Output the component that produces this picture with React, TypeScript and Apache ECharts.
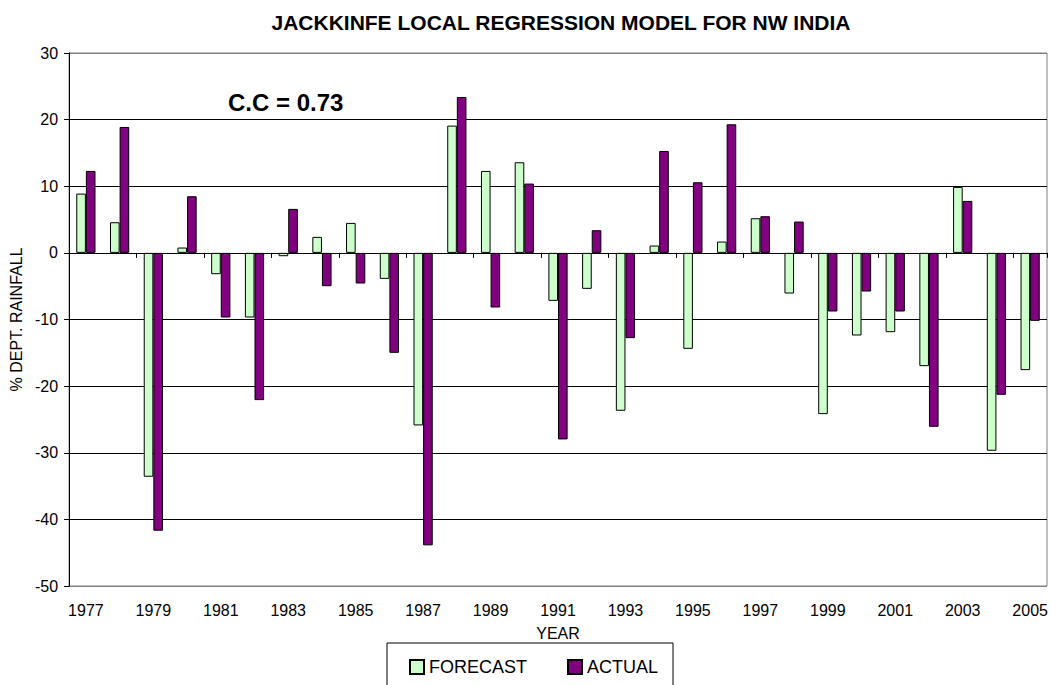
import React, { useEffect, useRef } from "react";
import * as echarts from "echarts";

const years = [
  "1977", "1978", "1979", "1980", "1981", "1982", "1983", "1984", "1985", "1986",
  "1987", "1988", "1989", "1990", "1991", "1992", "1993", "1994", "1995", "1996",
  "1997", "1998", "1999", "2000", "2001", "2002", "2003", "2004", "2005",
];

const forecast = [
  8.9, 4.6, -33.6, 0.8, -3.2, -9.7, -0.5, 2.4, 4.5, -3.9,
  -25.9, 19.1, 12.3, 13.6, -7.2, -5.4, -23.7, 1.1, -14.4, 1.7,
  5.2, -6.1, -24.2, -12.4, -11.9, -17.0, 9.9, -29.7, -17.6,
];

const actual = [
  12.3, 18.9, -41.7, 8.5, -9.7, -22.1, 6.6, -5.0, -4.6, -15.0,
  -43.9, 23.4, -8.2, 10.4, -28.0, 3.4, -12.8, 15.3, 10.6, 19.3,
  5.5, 4.7, -8.8, -5.8, -8.8, -26.1, 7.8, -21.3, -10.2,
];

const FONT = "'Liberation Sans', Arial, sans-serif";

export default function App() {
  const ref = useRef<HTMLDivElement>(null);

  useEffect(() => {
    document.body.style.margin = "0";
    if (!ref.current) return;
    const chart = echarts.init(ref.current, undefined, { renderer: "svg" });
    chart.setOption({
      animation: false,
      backgroundColor: "#ffffff",
      title: {
        text: "JACKKINFE LOCAL REGRESSION MODEL FOR NW INDIA",
        left: 556,
        textAlign: "center",
        top: 7,
        textStyle: { fontFamily: FONT, fontWeight: "bold", fontSize: 21, color: "#000" },
      },
      graphic: [
        {
          type: "text",
          x: 228,
          y: 102,
          style: {
            text: "C.C = 0.73",
            font: "bold 24px " + FONT,
            fill: "#000",
            textVerticalAlign: "middle",
            verticalAlign: "middle",
          },
        },
      ],
      legend: {
        left: 387,
        top: 643,
        padding: [15, 15, 40, 22],
        borderColor: "#000",
        borderWidth: 1,
        itemGap: 40,
        itemWidth: 14,
        itemHeight: 14,
        icon: "rect",
        textStyle: { fontFamily: FONT, fontSize: 18, color: "#000" },
        data: ["FORECAST", "ACTUAL"],
      },
      grid: {
        left: 63,
        right: 4,
        top: 53,
        bottom: 99,
        show: true,
        borderColor: "#808080",
        borderWidth: 1,
        containLabel: false,
      },
      xAxis: [
        {
          type: "category",
          data: years,
          position: "bottom",
          axisLine: { show: false, onZero: false },
          axisTick: { show: false },
          axisLabel: {
            interval: 1,
            fontFamily: FONT,
            fontSize: 16,
            color: "#000",
            margin: 16,
          },
          name: "YEAR",
          nameLocation: "middle",
          nameGap: 39,
          nameTextStyle: { fontFamily: FONT, fontSize: 16, color: "#000" },
        },
        {
          type: "category",
          data: years,
          position: "top",
          axisLine: { show: true, onZero: true, lineStyle: { color: "#000", width: 1 } },
          axisTick: { show: true, inside: true, length: 5, lineStyle: { color: "#000" } },
          axisLabel: { show: false },
        },
      ],
      yAxis: {
        type: "value",
        min: -50,
        max: 30,
        interval: 10,
        axisLine: { show: true, lineStyle: { color: "#000", width: 1 } },
        axisTick: { show: true, length: 5, lineStyle: { color: "#000" } },
        axisLabel: { fontFamily: FONT, fontSize: 16, color: "#000", margin: 11 },
        splitLine: {
          show: true,
          lineStyle: {
            color: ["#808080", "#000", "#000", "#000", "#000", "#000", "#000", "#000", "#808080"],
            width: 1,
          },
        },
        name: "% DEPT. RAINFALL",
        nameLocation: "middle",
        nameGap: 37,
        nameTextStyle: { fontFamily: FONT, fontSize: 16, color: "#000" },
      },
      series: [
        {
          name: "FORECAST",
          type: "bar",
          xAxisIndex: 0,
          data: forecast,
          barGap: "0%",
          barCategoryGap: "43%",
          itemStyle: { color: "#CCFFCC", borderColor: "#000", borderWidth: 1 },
        },
        {
          name: "ACTUAL",
          type: "bar",
          xAxisIndex: 0,
          data: actual,
          barGap: "0%",
          barCategoryGap: "43%",
          itemStyle: { color: "#800080", borderColor: "#000", borderWidth: 1 },
        },
      ],
    });
    return () => chart.dispose();
  }, []);

  return <div ref={ref} style={{ width: 1051, height: 685 }} />;
}
